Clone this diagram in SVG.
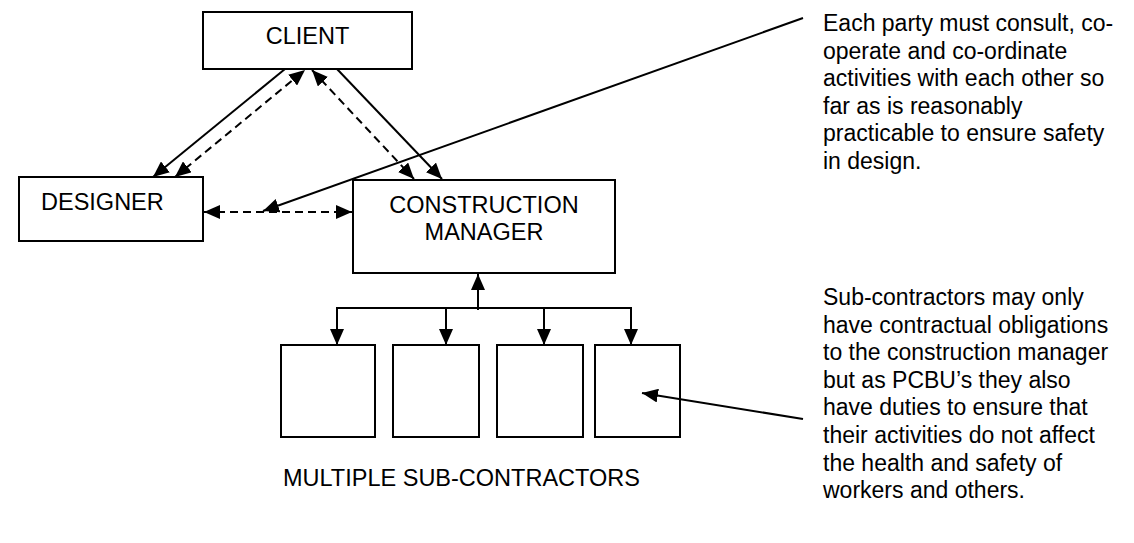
<svg xmlns="http://www.w3.org/2000/svg" width="1134" height="543" viewBox="0 0 1134 543">
<defs>
<style>
.box{fill:#fff;stroke:#000;stroke-width:2}
.lbl{font-family:"Liberation Sans",Arial,sans-serif;font-size:23.5px;fill:#000}
.note{font-family:"Liberation Sans",Arial,sans-serif;font-size:23px;fill:#000}
.ln{fill:none;stroke:#000;stroke-width:2}
.dash{stroke-dasharray:8 5}
</style>
<marker id="ah" markerUnits="userSpaceOnUse" viewBox="0 0 16 14" markerWidth="16" markerHeight="14" refX="16" refY="7" orient="auto-start-reverse">
<path d="M0,0 L16,7 L0,14 z" fill="#000"/>
</marker>
</defs>
<rect width="1134" height="543" fill="#fff"/>
<g id="client">
<rect class="box" x="203" y="12" width="209" height="57"/>
<text class="lbl" x="307.5" y="44" text-anchor="middle">CLIENT</text>
</g>
<g id="designer">
<rect class="box" x="19" y="177" width="184" height="64"/>
<text class="lbl" x="41" y="210">DESIGNER</text>
</g>
<g id="construction-manager">
<rect class="box" x="353" y="180" width="262" height="93"/>
<text class="lbl" x="484" y="213" text-anchor="middle">CONSTRUCTION</text>
<text class="lbl" x="484" y="240" text-anchor="middle">MANAGER</text>
</g>
<g id="sub1"><rect class="box" x="281" y="345" width="94" height="92"/></g>
<g id="sub2"><rect class="box" x="393" y="345" width="86" height="92"/></g>
<g id="sub3"><rect class="box" x="497" y="345" width="86" height="92"/></g>
<g id="sub4"><rect class="box" x="595" y="345" width="85" height="92"/></g>
<g id="sub-label">
<text class="lbl" x="283" y="486">MULTIPLE SUB-CONTRACTORS</text>
</g>
<g id="note-top">
<text class="note" x="823">
<tspan x="823" y="31">Each party must consult, co-</tspan>
<tspan x="823" y="58.5">operate and co-ordinate</tspan>
<tspan x="823" y="86">activities with each other so</tspan>
<tspan x="823" y="113.5">far as is reasonably</tspan>
<tspan x="823" y="141">practicable to ensure safety</tspan>
<tspan x="823" y="168.5">in design.</tspan>
</text>
</g>
<g id="note-bottom">
<text class="note" x="823">
<tspan x="823" y="305">Sub-contractors may only</tspan>
<tspan x="823" y="332.6">have contractual obligations</tspan>
<tspan x="823" y="360.2">to the construction manager</tspan>
<tspan x="823" y="387.8">but as PCBU’s they also</tspan>
<tspan x="823" y="415.4">have duties to ensure that</tspan>
<tspan x="823" y="443">their activities do not affect</tspan>
<tspan x="823" y="470.6">the health and safety of</tspan>
<tspan x="823" y="498.2">workers and others.</tspan>
</text>
</g>
<g id="connectors">
<line class="ln" x1="285" y1="69" x2="153" y2="177" marker-end="url(#ah)"/>
<line class="ln dash" x1="175" y1="177" x2="305" y2="70" marker-start="url(#ah)" marker-end="url(#ah)"/>
<line class="ln dash" x1="312" y1="70" x2="414" y2="179" marker-start="url(#ah)" marker-end="url(#ah)"/>
<line class="ln" x1="337" y1="69" x2="442" y2="179" marker-end="url(#ah)"/>
<line class="ln dash" x1="204" y1="212" x2="352" y2="212" marker-start="url(#ah)" marker-end="url(#ah)"/>
<line class="ln" x1="803" y1="18" x2="263" y2="211" marker-end="url(#ah)"/>
<line class="ln" x1="478" y1="310" x2="478" y2="274" marker-end="url(#ah)"/>
<line class="ln" x1="337" y1="308" x2="631" y2="308"/>
<line class="ln" x1="337" y1="307" x2="337" y2="345" marker-end="url(#ah)"/>
<line class="ln" x1="446" y1="308" x2="446" y2="345" marker-end="url(#ah)"/>
<line class="ln" x1="544" y1="308" x2="544" y2="345" marker-end="url(#ah)"/>
<line class="ln" x1="631" y1="307" x2="631" y2="345" marker-end="url(#ah)"/>
<line class="ln" x1="803" y1="419" x2="642" y2="393" marker-end="url(#ah)"/>
</g>
</svg>
